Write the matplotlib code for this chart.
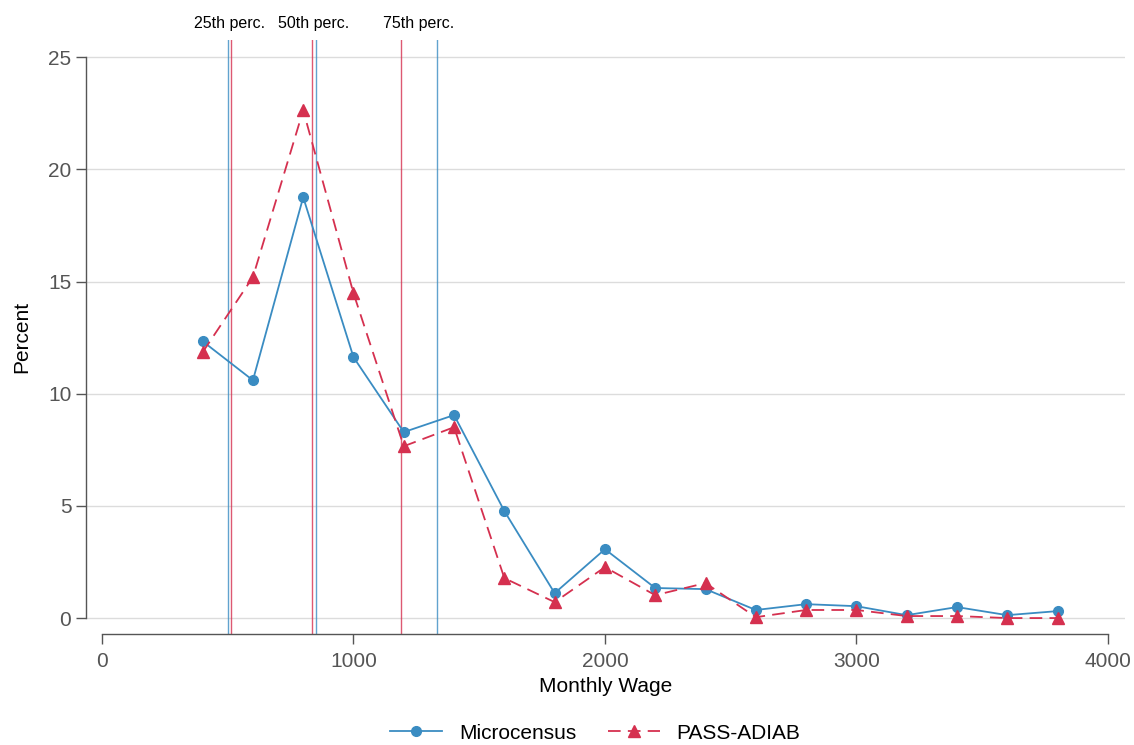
import numpy as np
import matplotlib.pyplot as plt

plt.rcParams['font.family'] = ['Liberation Sans', 'DejaVu Sans']

wage = [400, 600, 800, 1000, 1200, 1400, 1600, 1800, 2000, 2200,
        2400, 2600, 2800, 3000, 3200, 3400, 3600, 3800]
micro = [12.34, 10.6, 18.76, 11.63, 8.29, 9.05, 4.77, 1.11, 3.07, 1.34,
         1.29, 0.36, 0.62, 0.53, 0.13, 0.49, 0.13, 0.31]
pass_adiab = [11.85, 15.2, 22.64, 14.48, 7.66, 8.51, 1.78, 0.71, 2.27, 1.02,
              1.56, 0.04, 0.36, 0.36, 0.09, 0.09, 0.0, 0.0]

# percentiles (25th, 50th, 75th)
perc_micro = [501, 851, 1332]
perc_pass = [513, 835, 1189]
perc_labels = ['25th perc.', '50th perc.', '75th perc.']

blue = '#3a8cc2'
red = '#d5304f'


def main():
    fig = plt.figure(figsize=(11.34, 7.45), dpi=100)
    ax = fig.add_axes([0.0758, 0.149, 0.9162, 0.797])

    ax.set_xlim(-64, 4068)
    ax.set_ylim(-0.71, 25.76)

    ax.set_yticks([0, 5, 10, 15, 20, 25])
    ax.set_xticks([0, 1000, 2000, 3000, 4000])
    ax.yaxis.grid(True, color='#dcdcdc', lw=1)
    ax.set_axisbelow(True)

    for s in ['top', 'right']:
        ax.spines[s].set_visible(False)
    ax.spines['left'].set_bounds(0, 25)
    ax.spines['bottom'].set_bounds(0, 4000)
    for s in ['left', 'bottom']:
        ax.spines[s].set_color('#555555')
        ax.spines[s].set_linewidth(1)
    ax.tick_params(axis='both', direction='out', length=7, width=1,
                   color='#555555', labelcolor='#555555', labelsize=15)
    ax.tick_params(axis='x', pad=6)

    for pm, pp in zip(perc_micro, perc_pass):
        ax.axvline(pm, color=blue, lw=1, alpha=0.8)
        ax.axvline(pp, color=red, lw=1, alpha=0.8)

    for pm, pp, lab in zip(perc_micro, perc_pass, perc_labels):
        ax.text((pm + pp) / 2, 1.015, lab, transform=ax.get_xaxis_transform(),
                ha='center', va='bottom', fontsize=11.5)

    ax.plot(wage, micro, color=blue, lw=1.3, marker='o', ms=7,
            label='Microcensus')
    ax.plot(wage, pass_adiab, color=red, lw=1.3, ls=(0, (7, 4)), marker='^',
            ms=8, label='PASS-ADIAB')

    ax.set_xlabel('Monthly Wage', fontsize=15, labelpad=4)
    ax.set_ylabel('Percent', fontsize=15, labelpad=12)

    fig.legend(loc='lower center', bbox_to_anchor=(0.525, -0.022), ncol=2,
               frameon=False, fontsize=15, handlelength=2.5, columnspacing=1.5)

    fig.savefig('out.png', dpi=100)


if __name__ == "__main__":
    main()
